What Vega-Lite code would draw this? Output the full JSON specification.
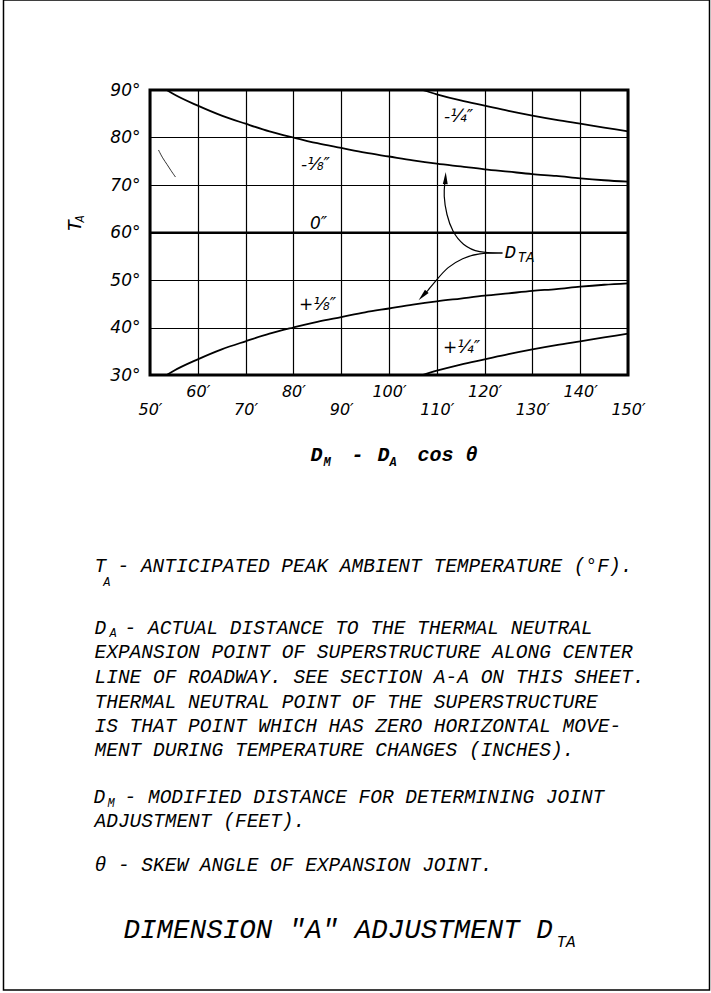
{
  "$schema": "https://vega.github.io/schema/vega-lite/v6.json",
  "width": 478,
  "height": 285,
  "autosize": {"type": "none"},
  "padding": {"left": 150, "top": 90, "right": 83, "bottom": 618},
  "background": "white",
  "config": {"view": {"stroke": "black", "strokeWidth": 3}, "font": "Liberation Mono"},
  "datasets": {
    "frame": [{"x": 19.35, "x2": 167.05, "y": 108.95, "y2": -99.47}],
    "curves": [
      {"s": "m8", "x": 53.5, "y": 90}, {"s": "m8", "x": 55, "y": 89.1}, {"s": "m8", "x": 60, "y": 86.7}, {"s": "m8", "x": 65, "y": 84.6}, {"s": "m8", "x": 70, "y": 82.9}, {"s": "m8", "x": 75, "y": 81.3}, {"s": "m8", "x": 80, "y": 80}, {"s": "m8", "x": 85, "y": 78.8}, {"s": "m8", "x": 90, "y": 77.8}, {"s": "m8", "x": 95, "y": 76.8}, {"s": "m8", "x": 100, "y": 76}, {"s": "m8", "x": 105, "y": 75.2}, {"s": "m8", "x": 110, "y": 74.5}, {"s": "m8", "x": 115, "y": 73.9}, {"s": "m8", "x": 120, "y": 73.3}, {"s": "m8", "x": 125, "y": 72.8}, {"s": "m8", "x": 130, "y": 72.3}, {"s": "m8", "x": 135, "y": 71.9}, {"s": "m8", "x": 140, "y": 71.4}, {"s": "m8", "x": 145, "y": 71.0}, {"s": "m8", "x": 150, "y": 70.7},
      {"s": "m4", "x": 107, "y": 90}, {"s": "m4", "x": 110, "y": 89.1}, {"s": "m4", "x": 115, "y": 87.8}, {"s": "m4", "x": 120, "y": 86.7}, {"s": "m4", "x": 125, "y": 85.6}, {"s": "m4", "x": 130, "y": 84.6}, {"s": "m4", "x": 135, "y": 83.7}, {"s": "m4", "x": 140, "y": 82.9}, {"s": "m4", "x": 145, "y": 82.1}, {"s": "m4", "x": 150, "y": 81.3},
      {"s": "p8", "x": 53.5, "y": 30}, {"s": "p8", "x": 55, "y": 30.9}, {"s": "p8", "x": 60, "y": 33.3}, {"s": "p8", "x": 65, "y": 35.4}, {"s": "p8", "x": 70, "y": 37.1}, {"s": "p8", "x": 75, "y": 38.7}, {"s": "p8", "x": 80, "y": 40}, {"s": "p8", "x": 85, "y": 41.2}, {"s": "p8", "x": 90, "y": 42.2}, {"s": "p8", "x": 95, "y": 43.2}, {"s": "p8", "x": 100, "y": 44}, {"s": "p8", "x": 105, "y": 44.8}, {"s": "p8", "x": 110, "y": 45.5}, {"s": "p8", "x": 115, "y": 46.1}, {"s": "p8", "x": 120, "y": 46.7}, {"s": "p8", "x": 125, "y": 47.2}, {"s": "p8", "x": 130, "y": 47.7}, {"s": "p8", "x": 135, "y": 48.1}, {"s": "p8", "x": 140, "y": 48.6}, {"s": "p8", "x": 145, "y": 49.0}, {"s": "p8", "x": 150, "y": 49.3},
      {"s": "p4", "x": 107, "y": 30}, {"s": "p4", "x": 110, "y": 30.9}, {"s": "p4", "x": 115, "y": 32.2}, {"s": "p4", "x": 120, "y": 33.3}, {"s": "p4", "x": 125, "y": 34.4}, {"s": "p4", "x": 130, "y": 35.4}, {"s": "p4", "x": 135, "y": 36.3}, {"s": "p4", "x": 140, "y": 37.1}, {"s": "p4", "x": 145, "y": 37.9}, {"s": "p4", "x": 150, "y": 38.7},
      {"s": "z", "x": 50, "y": 60}, {"s": "z", "x": 150, "y": 60}
    ],
    "leaders": [
      {"s": "a", "i": 0, "x": 123.74, "y": 55.68}, {"s": "a", "i": 1, "x": 118.72, "y": 55.68}, {"s": "a", "i": 2, "x": 115.38, "y": 57.37}, {"s": "a", "i": 3, "x": 113.28, "y": 60.11}, {"s": "a", "i": 4, "x": 112.03, "y": 63.68}, {"s": "a", "i": 5, "x": 111.4, "y": 67.89}, {"s": "a", "i": 6, "x": 111.7, "y": 70.6},
      {"s": "b", "i": 0, "x": 123.74, "y": 55.68}, {"s": "b", "i": 1, "x": 118.72, "y": 55.68}, {"s": "b", "i": 2, "x": 115.38, "y": 54.63}, {"s": "b", "i": 3, "x": 112.24, "y": 52.74}, {"s": "b", "i": 4, "x": 109.94, "y": 50.0}, {"s": "b", "i": 5, "x": 108.05, "y": 47.68}, {"s": "b", "i": 6, "x": 107.0, "y": 46.6}
    ],
    "stray": [
      {"i": 0, "x": 51.78, "y": 77.37}, {"i": 1, "x": 52.62, "y": 75.68}, {"i": 2, "x": 53.66, "y": 74.21}, {"i": 3, "x": 54.29, "y": 73.16}, {"i": 4, "x": 55.33, "y": 71.68}
    ],
    "arrows": [
      {"s": "up", "x": 111.82, "y": 71.47},
      {"s": "dl", "x": 107.05, "y": 46.67}
    ],
    "notes": [
      {"k": "body", "x": 38.39, "y": -10.21, "t": "T"},
      {"k": "sub", "x": 40.2, "y": -13.6, "t": "A"},
      {"k": "body", "x": 43.2, "y": -10.21, "t": "- ANTICIPATED PEAK AMBIENT TEMPERATURE (°F)."},
      {"k": "body", "x": 38.39, "y": -23.26, "t": "D"},
      {"k": "sub", "x": 41.53, "y": -24.32, "t": "A"},
      {"k": "body", "x": 44.67, "y": -23.26, "t": "- ACTUAL DISTANCE TO THE THERMAL NEUTRAL"},
      {"k": "body", "x": 38.39, "y": -28.42, "t": "EXPANSION POINT OF SUPERSTRUCTURE ALONG CENTER"},
      {"k": "body", "x": 38.39, "y": -33.58, "t": "LINE OF ROADWAY. SEE SECTION A-A ON THIS SHEET."},
      {"k": "body", "x": 38.39, "y": -38.74, "t": "THERMAL NEUTRAL POINT OF THE SUPERSTRUCTURE"},
      {"k": "body", "x": 38.39, "y": -43.89, "t": "IS THAT POINT WHICH HAS ZERO HORIZONTAL MOVE-"},
      {"k": "body", "x": 38.39, "y": -48.95, "t": "MENT DURING TEMPERATURE CHANGES (INCHES)."},
      {"k": "body", "x": 38.18, "y": -58.84, "t": "D"},
      {"k": "sub", "x": 41.11, "y": -60.11, "t": "M"},
      {"k": "body", "x": 44.67, "y": -58.84, "t": "- MODIFIED DISTANCE FOR DETERMINING JOINT"},
      {"k": "body", "x": 38.39, "y": -63.89, "t": "ADJUSTMENT (FEET)."},
      {"k": "body", "x": 38.39, "y": -73.16, "t": "θ - SKEW ANGLE OF EXPANSION JOINT."},
      {"k": "head", "x": 44.48, "y": -86.84, "t": "DIMENSION \"A\" ADJUSTMENT D"},
      {"k": "headsub", "x": 135.04, "y": -89.37, "t": "TA"},
      {"k": "xt", "x": 83.58, "y": 13.16, "t": "D"},
      {"k": "xtsub", "x": 86.3, "y": 11.68, "t": "M"},
      {"k": "xt", "x": 92.15, "y": 13.16, "t": "-"},
      {"k": "xt", "x": 97.59, "y": 13.16, "t": "D"},
      {"k": "xtsub", "x": 100.1, "y": 11.68, "t": "A"},
      {"k": "xt", "x": 105.96, "y": 13.16, "t": "cos θ"},
      {"k": "yt", "x": 34.21, "y": 61.37, "t": "T"},
      {"k": "ytsub", "x": 35.46, "y": 62.84, "t": "A"},
      {"k": "cl", "x": 84.62, "y": 74.21, "t": "-⅛″"},
      {"k": "cl", "x": 85.25, "y": 61.79, "t": "0″"},
      {"k": "cl", "x": 85.04, "y": 44.74, "t": "+⅛″"},
      {"k": "cl", "x": 114.54, "y": 84.32, "t": "-¼″"},
      {"k": "cl", "x": 115.17, "y": 35.68, "t": "+¼″"},
      {"k": "dta", "x": 124.16, "y": 55.89, "t": "D"},
      {"k": "dtasub", "x": 126.88, "y": 54.63, "t": "TA"}
    ]
  },
  "encoding": {
    "x": {
      "field": "x", "type": "quantitative",
      "scale": {"domain": [50, 150], "nice": false, "zero": false},
      "axis": {
        "values": [50, 60, 70, 80, 90, 100, 110, 120, 130, 140, 150],
        "title": null, "grid": true, "gridColor": "black", "gridWidth": 1.2,
        "domain": false, "ticks": false,
        "labelExpr": "datum.value + '′'",
        "labelFont": "DejaVu Sans", "labelFontStyle": "italic", "labelFontSize": 16, "labelColor": "black",
        "labelFlush": false, "labelOverlap": false, "labelBound": false,
        "labelPadding": {"condition": {"test": "datum.value % 20 === 0", "value": 8}, "value": 26}
      }
    },
    "y": {
      "field": "y", "type": "quantitative",
      "scale": {"domain": [30, 90], "nice": false, "zero": false},
      "axis": {
        "values": [30, 40, 50, 60, 70, 80, 90],
        "title": null, "grid": true, "gridColor": "black", "gridWidth": 1.2,
        "domain": false, "ticks": false,
        "labelExpr": "datum.value + '°'",
        "labelFont": "DejaVu Sans", "labelFontStyle": "italic", "labelFontSize": 17, "labelColor": "black",
        "labelFlush": false, "labelOverlap": false, "labelBound": false, "labelPadding": 10
      }
    }
  },
  "layer": [
    {"data": {"name": "frame"}, "mark": {"type": "rect", "fill": null, "fillOpacity": 0, "stroke": "black", "strokeWidth": 1.5},
     "encoding": {"x2": {"field": "x2"}, "y2": {"field": "y2"}}},
    {"data": {"name": "curves"}, "mark": {"type": "line", "interpolate": "monotone", "stroke": "black", "strokeWidth": 1.8},
     "encoding": {"detail": {"field": "s"}}},
    {"data": {"name": "leaders"}, "mark": {"type": "line", "interpolate": "basis", "stroke": "black", "strokeWidth": 1.2},
     "encoding": {"detail": {"field": "s"}, "order": {"field": "i"}}},
    {"data": {"name": "stray"}, "mark": {"type": "line", "interpolate": "basis", "stroke": "black", "strokeWidth": 0.8},
     "encoding": {"order": {"field": "i"}}},
    {"data": {"name": "arrows"}, "transform": [{"filter": "datum.s === 'up'"}],
     "mark": {"type": "point", "shape": "M0,-1L0.4,1L-0.4,1Z", "filled": true, "color": "black", "size": 150, "angle": 2, "opacity": 1}, "encoding": {}},
    {"data": {"name": "arrows"}, "transform": [{"filter": "datum.s === 'dl'"}],
     "mark": {"type": "point", "shape": "M0,-1L0.4,1L-0.4,1Z", "filled": true, "color": "black", "size": 150, "angle": 222, "opacity": 1}, "encoding": {}},
    {"data": {"name": "notes"}, "transform": [{"filter": "datum.k === 'body'"}],
     "mark": {"type": "text", "font": "Liberation Mono", "fontStyle": "italic", "fontSize": 19.5, "align": "left", "baseline": "middle", "color": "black"},
     "encoding": {"text": {"field": "t"}}},
    {"data": {"name": "notes"}, "transform": [{"filter": "datum.k === 'sub'"}],
     "mark": {"type": "text", "font": "Liberation Mono", "fontStyle": "italic", "fontSize": 12, "align": "left", "baseline": "middle", "color": "black"},
     "encoding": {"text": {"field": "t"}}},
    {"data": {"name": "notes"}, "transform": [{"filter": "datum.k === 'head'"}],
     "mark": {"type": "text", "font": "Liberation Mono", "fontStyle": "italic", "fontSize": 27.5, "align": "left", "baseline": "middle", "color": "black"},
     "encoding": {"text": {"field": "t"}}},
    {"data": {"name": "notes"}, "transform": [{"filter": "datum.k === 'headsub'"}],
     "mark": {"type": "text", "font": "Liberation Mono", "fontStyle": "italic", "fontSize": 16, "align": "left", "baseline": "middle", "color": "black"},
     "encoding": {"text": {"field": "t"}}},
    {"data": {"name": "notes"}, "transform": [{"filter": "datum.k === 'xt'"}],
     "mark": {"type": "text", "font": "Liberation Mono", "fontStyle": "italic", "fontWeight": "bold", "fontSize": 20, "align": "left", "baseline": "middle", "color": "black"},
     "encoding": {"text": {"field": "t"}}},
    {"data": {"name": "notes"}, "transform": [{"filter": "datum.k === 'xtsub'"}],
     "mark": {"type": "text", "font": "Liberation Mono", "fontStyle": "italic", "fontWeight": "bold", "fontSize": 12, "align": "left", "baseline": "middle", "color": "black"},
     "encoding": {"text": {"field": "t"}}},
    {"data": {"name": "notes"}, "transform": [{"filter": "datum.k === 'yt'"}],
     "mark": {"type": "text", "font": "Liberation Mono", "fontStyle": "italic", "fontSize": 20, "angle": 270, "align": "center", "baseline": "middle", "color": "black"},
     "encoding": {"text": {"field": "t"}}},
    {"data": {"name": "notes"}, "transform": [{"filter": "datum.k === 'ytsub'"}],
     "mark": {"type": "text", "font": "Liberation Mono", "fontStyle": "italic", "fontSize": 12, "angle": 270, "align": "center", "baseline": "middle", "color": "black"},
     "encoding": {"text": {"field": "t"}}},
    {"data": {"name": "notes"}, "transform": [{"filter": "datum.k === 'cl'"}],
     "mark": {"type": "text", "font": "DejaVu Sans", "fontStyle": "italic", "fontSize": 17, "align": "center", "baseline": "middle", "color": "black"},
     "encoding": {"text": {"field": "t"}}},
    {"data": {"name": "notes"}, "transform": [{"filter": "datum.k === 'dta'"}],
     "mark": {"type": "text", "font": "Liberation Mono", "fontStyle": "italic", "fontSize": 19, "align": "left", "baseline": "middle", "color": "black"},
     "encoding": {"text": {"field": "t"}}},
    {"data": {"name": "notes"}, "transform": [{"filter": "datum.k === 'dtasub'"}],
     "mark": {"type": "text", "font": "Liberation Mono", "fontStyle": "italic", "fontSize": 14, "align": "left", "baseline": "middle", "color": "black"},
     "encoding": {"text": {"field": "t"}}}
  ]
}
